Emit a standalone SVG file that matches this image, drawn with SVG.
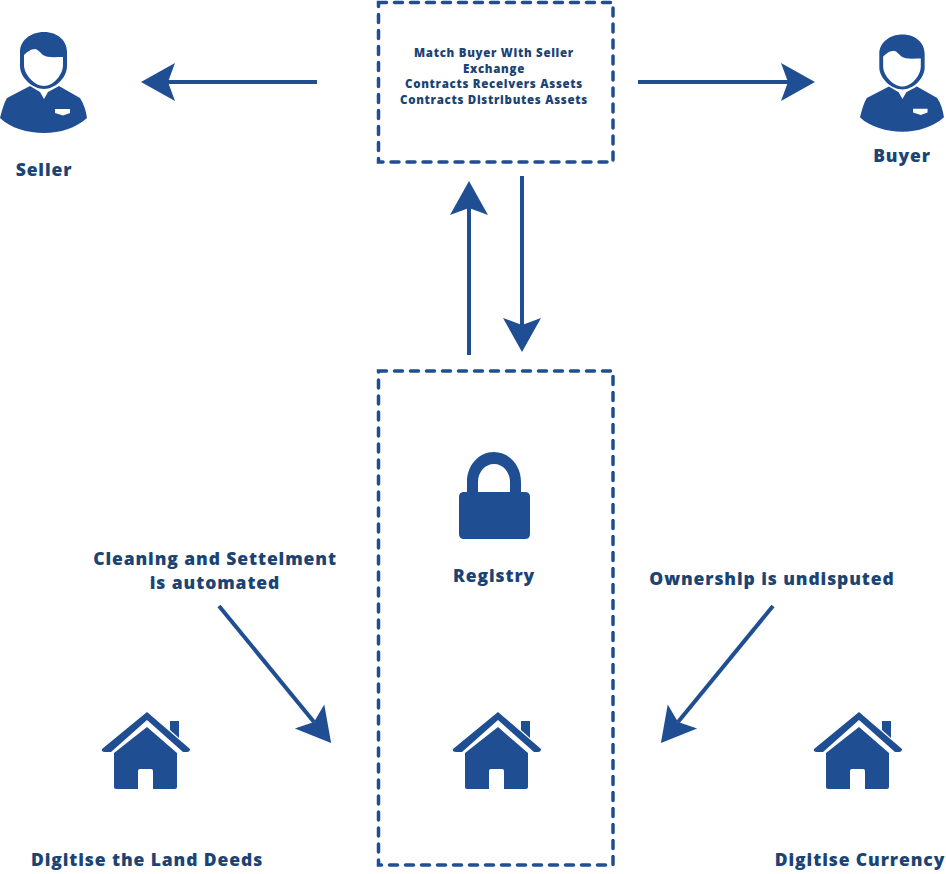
<svg xmlns="http://www.w3.org/2000/svg" width="946" height="874" viewBox="0 0 946 874">
<style>
.box{fill:none;stroke:#1f4e93;stroke-width:3.5;stroke-dasharray:8 8;stroke-linecap:round}
.line{fill:none;stroke:#1f4e93;stroke-width:4;marker-end:url(#head)}
.ic{fill:#1f4e93}
text{font-family:"Open Sans","Liberation Sans",sans-serif;font-weight:800;fill:#1b4373;text-anchor:middle;font-size:17.5px;letter-spacing:.9px}
.sm{font-size:11.5px;letter-spacing:.7px}
</style>
<defs>
<marker id="head" markerUnits="userSpaceOnUse" markerWidth="36" markerHeight="40" viewBox="0 0 36 40" refX="7" refY="20" orient="auto">
<path d="M0 1L34 20L0 39L7 20Z" fill="#1f4e93"/>
</marker>
<g id="house">
<path class="ic" d="M498 712L541 749Q541 752 538 752L534 752L498 720L462 752L456 752Q452 752 453 749Z"/>
<path class="ic" d="M521 721H530V738L521 730Z"/>
<path class="ic" d="M498 727L528 753V787Q528 789 526 789H504V771Q504 769 502 769H491Q489 769 489 771V789H467Q465 789 465 787V753Z"/>
</g>
<g id="person">
<path class="ic" fill-rule="evenodd" d="M44 32C58 32 67 41 67 52V66C67 78 55 89 44 89C33 89 20 78 20 66V52C20 41 30 32 44 32ZM24 55V65C24 75 35 86 44 86C53 86 63 75 63 65V57C55 57 47 58 43 55C40 52 37 49 35 49C31 49 27 52 24 55Z"/>
<path class="ic" fill-rule="evenodd" d="M30 86L40 92L44 99L48 92L59 86L80 98C84 104 86 111 87 118C76 128 60 133 44 133C28 133 10 128 0 118C2 110 4 103 7 98ZM55 109H70V113L63 115.500L55 113Z"/>
</g>
</defs>
<g id="connectors">
<path class="line" d="M317 82H168"/>
<path class="line" d="M638 82H788"/>
<path class="line" d="M469 355V208"/>
<path class="line" d="M522 176V325"/>
<path class="line" d="M219 606L314 722"/>
<path class="line" d="M773 606L678 722"/>
</g>
<g id="exchange"><rect class="box" x="378.500" y="2.500" width="234.500" height="159.500"/>
<text class="sm" x="494" y="57">Match Buyer With Seller</text>
<text class="sm" x="494" y="72.700">Exchange</text>
<text class="sm" x="494" y="88.400">Contracts Receivers Assets</text>
<text class="sm" x="494" y="104.100">Contracts Distributes Assets</text></g>
<g id="registry-box"><rect class="box" x="378.500" y="371" width="234.500" height="494"/></g>
<g id="seller"><use href="#person"/><text x="44" y="176">Seller</text></g>
<g id="buyer"><use href="#person" transform="translate(860 3.500) scale(.965)"/><text x="902" y="162">Buyer</text></g>
<g id="registry">
<path class="ic" fill-rule="evenodd" d="M467 492V482C467 465 479 452 494 452C509 452 521 465 521 482V492H525Q530 492 530 497V534Q530 539 525 539H464Q459 539 459 534V497Q459 492 464 492ZM478 492H510V482C510 472 503 464 494 464C485 464 478 472 478 482Z"/>
<text x="494" y="582">Registry</text></g>
<g id="land-deeds"><use href="#house" x="-351"/><text x="147" y="866">Digitise the Land Deeds</text></g>
<g id="registry-house"><use href="#house"/></g>
<g id="currency"><use href="#house" x="361"/><text x="860" y="866">Digitise Currency</text></g>
<g id="clearing"><text x="215" y="565">Cleaning and Settelment</text><text x="215" y="589">is automated</text></g>
<g id="ownership"><text x="772" y="585">Ownership is undisputed</text></g>
</svg>
